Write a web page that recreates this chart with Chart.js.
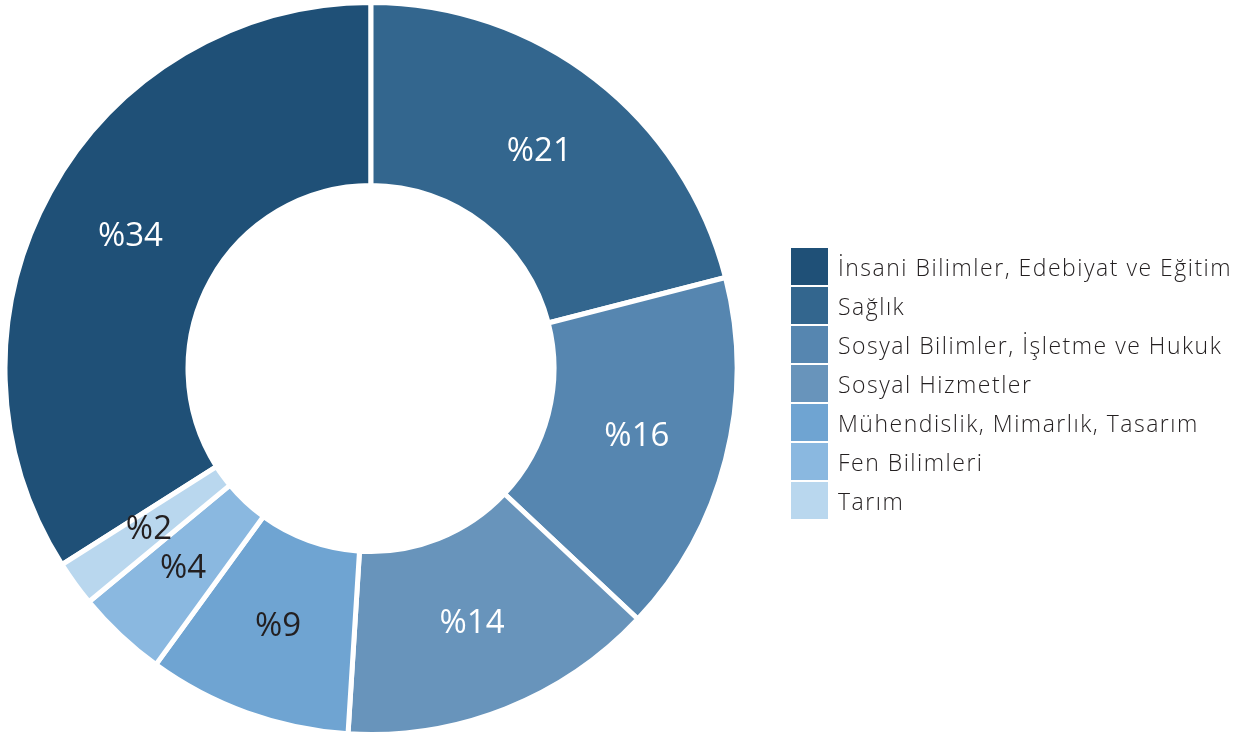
<!DOCTYPE html>
<html lang="tr">
<head>
<meta charset="utf-8">
<title>Alanlara göre dağılım</title>
<script src="https://cdn.jsdelivr.net/npm/chart.js@4.4.1/dist/chart.umd.min.js"></script>
<style>
  html, body { margin: 0; padding: 0; background: #fff; }
  #wrap { position: relative; width: 1246px; height: 737px; }
  #legend { position: absolute; left: 791px; top: 248px; margin: 0; padding: 0; list-style: none;
            font-family: "Open Sans", "Liberation Sans", sans-serif; font-weight: 300; font-size: 23px;
            letter-spacing: 1.5px; color: #231f20; }
  #legend li { display: flex; align-items: center; height: 37px; margin-bottom: 2px; white-space: nowrap; }
  #legend span.box { display: inline-block; width: 37px; height: 37px; margin-right: 10px; flex: none; }
</style>
</head>
<body>
<div id="wrap">
  <canvas id="pie" width="1246" height="737"></canvas>
  <ul id="legend"></ul>
</div>
<script>
// categories and shares (%)
const categories = [
  'İnsani Bilimler, Edebiyat ve Eğitim',
  'Sağlık',
  'Sosyal Bilimler, İşletme ve Hukuk',
  'Sosyal Hizmetler',
  'Mühendislik, Mimarlık, Tasarım',
  'Fen Bilimleri',
  'Tarım'
];
const shares = [34, 21, 16, 14, 9, 4, 2];
const sliceColors = ['#1f5077', '#33668e', '#5686b0', '#6894bb', '#6fa4d2', '#8ab8e0', '#b9d7ee'];
const labelColors = ['#ffffff', '#ffffff', '#ffffff', '#ffffff', '#231f20', '#231f20', '#231f20'];

// percent labels drawn on each slice
const sliceLabels = {
  id: 'sliceLabels',
  afterDatasetsDraw(chart) {
    const ctx = chart.ctx;
    const meta = chart.getDatasetMeta(0);
    ctx.save();
    ctx.font = '400 33px "Open Sans", "Liberation Sans", sans-serif';
    ctx.textAlign = 'center';
    ctx.textBaseline = 'middle';
    meta.data.forEach((arc, i) => {
      const p = arc.tooltipPosition();
      ctx.fillStyle = labelColors[i];
      ctx.fillText('%' + shares[i], p.x, p.y);
    });
    ctx.restore();
  }
};

const total = shares.reduce((a, b) => a + b, 0);

new Chart(document.getElementById('pie'), {
  type: 'doughnut',
  data: {
    labels: categories,
    datasets: [{
      data: shares,
      backgroundColor: sliceColors,
      borderColor: '#ffffff',
      borderWidth: 5
    }]
  },
  options: {
    responsive: false,
    animation: false,
    cutout: '50%',
    rotation: -360 * shares[0] / total,
    layout: { padding: { left: 0, right: 504, top: -2, bottom: -2 } },
    plugins: {
      legend: { display: false },
      tooltip: { enabled: false }
    }
  },
  plugins: [sliceLabels]
});

// html legend
const legend = document.getElementById('legend');
categories.forEach((name, i) => {
  const li = document.createElement('li');
  const box = document.createElement('span');
  box.className = 'box';
  box.style.background = sliceColors[i];
  li.appendChild(box);
  li.appendChild(document.createTextNode(name));
  legend.appendChild(li);
});
</script>
</body>
</html>
